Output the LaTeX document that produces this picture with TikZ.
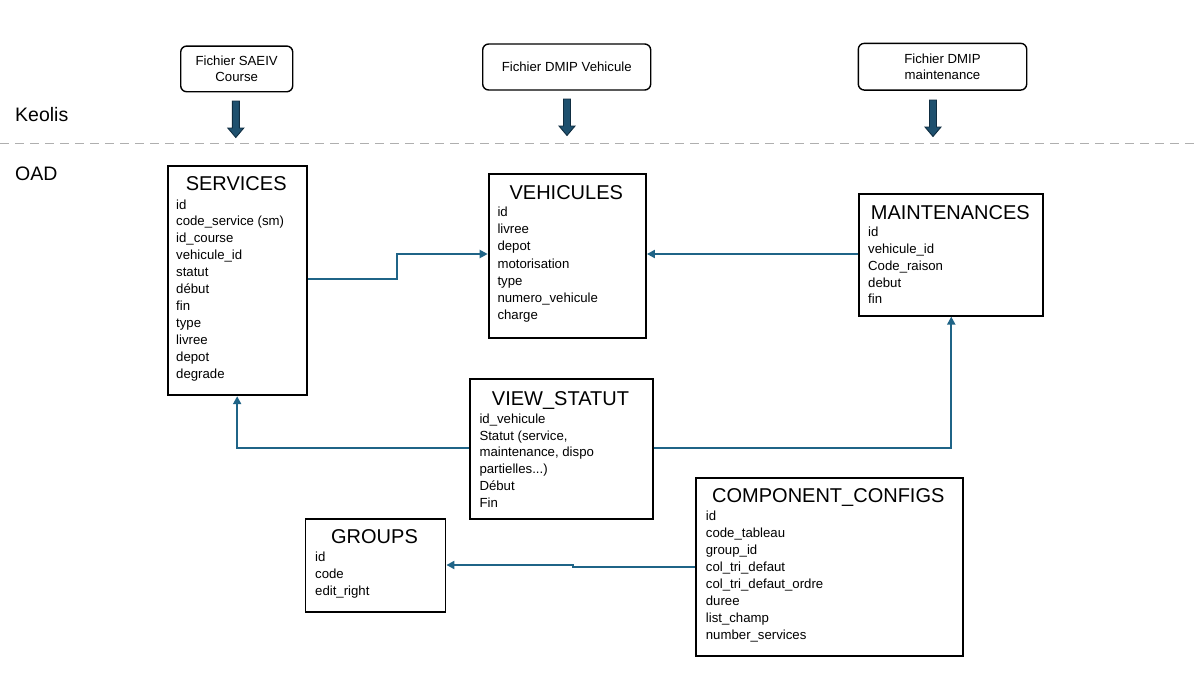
\documentclass[tikz,border=0pt]{standalone}
\usepackage{fontspec}
\setmainfont{Liberation Sans}
\usetikzlibrary{arrows.meta}
\definecolor{conncol}{RGB}{31,100,135}
\definecolor{arrfillc}{RGB}{30,80,110}
\definecolor{arrdrawc}{RGB}{15,45,65}
\definecolor{dashc}{RGB}{175,175,175}
\newcommand\tdots{...}
\newcommand\fieldlist[5]{\foreach \t [count=\i from 0] in {#5} {\node[fld] (#1-\i) at (#2,#3+#4*\i) {\t};}}
\begin{document}
\begin{tikzpicture}[x=1pt,y=-1pt,
  tbl/.style={draw=black,line width=1.9pt,inner sep=0pt,anchor=north west,fill=white},
  ttl/.style={font=\fontsize{20}{24}\selectfont,inner sep=0pt,anchor=base},
  fld/.style={font=\fontsize{13.2}{17}\selectfont,inner sep=0pt,anchor=base west},
  srcbox/.style={draw=black,line width=1.4pt,rounded corners=6pt,align=center,
    font=\fontsize{13.2}{16.7}\selectfont,inner sep=0pt},
  conn/.style={draw=conncol,line width=2pt,-{Triangle[length=8pt,width=8pt]}},
  lane/.style={font=\fontsize{19.5}{22}\selectfont,inner sep=0pt,anchor=base west},
  dashline/.style={draw=dashc,line width=1.3pt,dash pattern=on 9pt off 6pt},
  blockarrow/.pic={\path[fill=arrfillc,draw=arrdrawc,line width=0.9pt]
    (-3.5,0) -- (3.5,0) -- (3.5,27) -- (8,27) -- (0,36.5) -- (-8,27) -- (-3.5,27) -- cycle;}
]
\useasboundingbox (0,0) rectangle (1194,672);
\fill[white] (0,0) rectangle (1194,672);

% lanes
\node[lane] (keolis) at (15,121) {Keolis};
\node[lane] (oad) at (15,180.7) {OAD};
\draw[dashline] (0,143.3) -- (1194,143.3);

% source files
\node[srcbox,minimum width=112pt,minimum height=45.7pt] (f1) at (236.7,68.9) {Fichier SAEIV\\Course};
\node[srcbox,minimum width=168pt,minimum height=46pt] (f2) at (566.7,67) {Fichier DMIP Vehicule};
\node[srcbox,minimum width=168.4pt,minimum height=46.7pt] (f3) at (942.5,66.7) {Fichier DMIP\\maintenance};

\pic at (235.8,101) {blockarrow};
\pic at (567,99) {blockarrow};
\pic at (933,100) {blockarrow};

% tables
\node[tbl,minimum width=139pt,minimum height=229.6pt] (srv) at (166.7,164.7) {};
\node[ttl] (srv-t) at (236.2,190.7) {SERVICES};
\fieldlist{srv}{176}{209}{16.9}{id,code\_service (sm),id\_course,vehicule\_id,statut,début,fin,type,livree,depot,degrade}

\node[tbl,minimum width=157.3pt,minimum height=164pt] (veh) at (487.7,172.7) {};
\node[ttl] (veh-t) at (566.3,199.3) {VEHICULES};
\fieldlist{veh}{497.3}{216.7}{17.1}{id,livree,depot,motorisation,type,numero\_vehicule,charge}

\node[tbl,minimum width=184pt,minimum height=122pt] (mnt) at (858.3,192.7) {};
\node[ttl] (mnt-t) at (950.3,219) {MAINTENANCES};
\fieldlist{mnt}{868}{236.7}{16.8}{id,vehicule\_id,Code\_raison,debut,fin}

\node[tbl,minimum width=182.4pt,minimum height=139.4pt] (vst) at (469.3,378.3) {};
\node[ttl] (vst-t) at (560.5,405) {VIEW\_STATUT};
\fieldlist{vst}{479.3}{423.3}{16.8}{id\_vehicule,{Statut (service,},{maintenance, dispo},partielles\tdots),Début,Fin}

\node[tbl,minimum width=140pt,minimum height=93.3pt] (grp) at (304.5,517.7) {};
\node[ttl] (grp-t) at (374.5,543.3) {GROUPS};
\fieldlist{grp}{315}{561.7}{17}{id,code,edit\_right}

\node[tbl,minimum width=266.7pt,minimum height=178.3pt] (cmp) at (695,476.7) {};
\node[ttl] (cmp-t) at (828.3,502.3) {COMPONENT\_CONFIGS};
\fieldlist{cmp}{705.7}{520.7}{17.04}{id,code\_tableau,group\_id,col\_tri\_defaut,col\_tri\_defaut\_ordre,duree,list\_champ,number\_services}

% connectors
\coordinate (b1) at (397,279.3);
\coordinate (b2) at (397,254);
\draw[conn] (srv.east |- b1) -- (b1) -- (b2) -- (veh.west |- b2);
\draw[conn] (mnt.west |- b2) -- (veh.east |- b2);
\coordinate (vs) at (0,448.3);
\draw[conn] (vst.west |- vs) -| (srv.south);
\draw[conn] (vst.east |- vs) -| (mnt.south);
\coordinate (c1) at (573,566.7);
\coordinate (c2) at (573,565);
\draw[conn] (cmp.west |- c1) -- (c1) -- (c2) -- (grp.east |- c2);
\end{tikzpicture}
\end{document}
